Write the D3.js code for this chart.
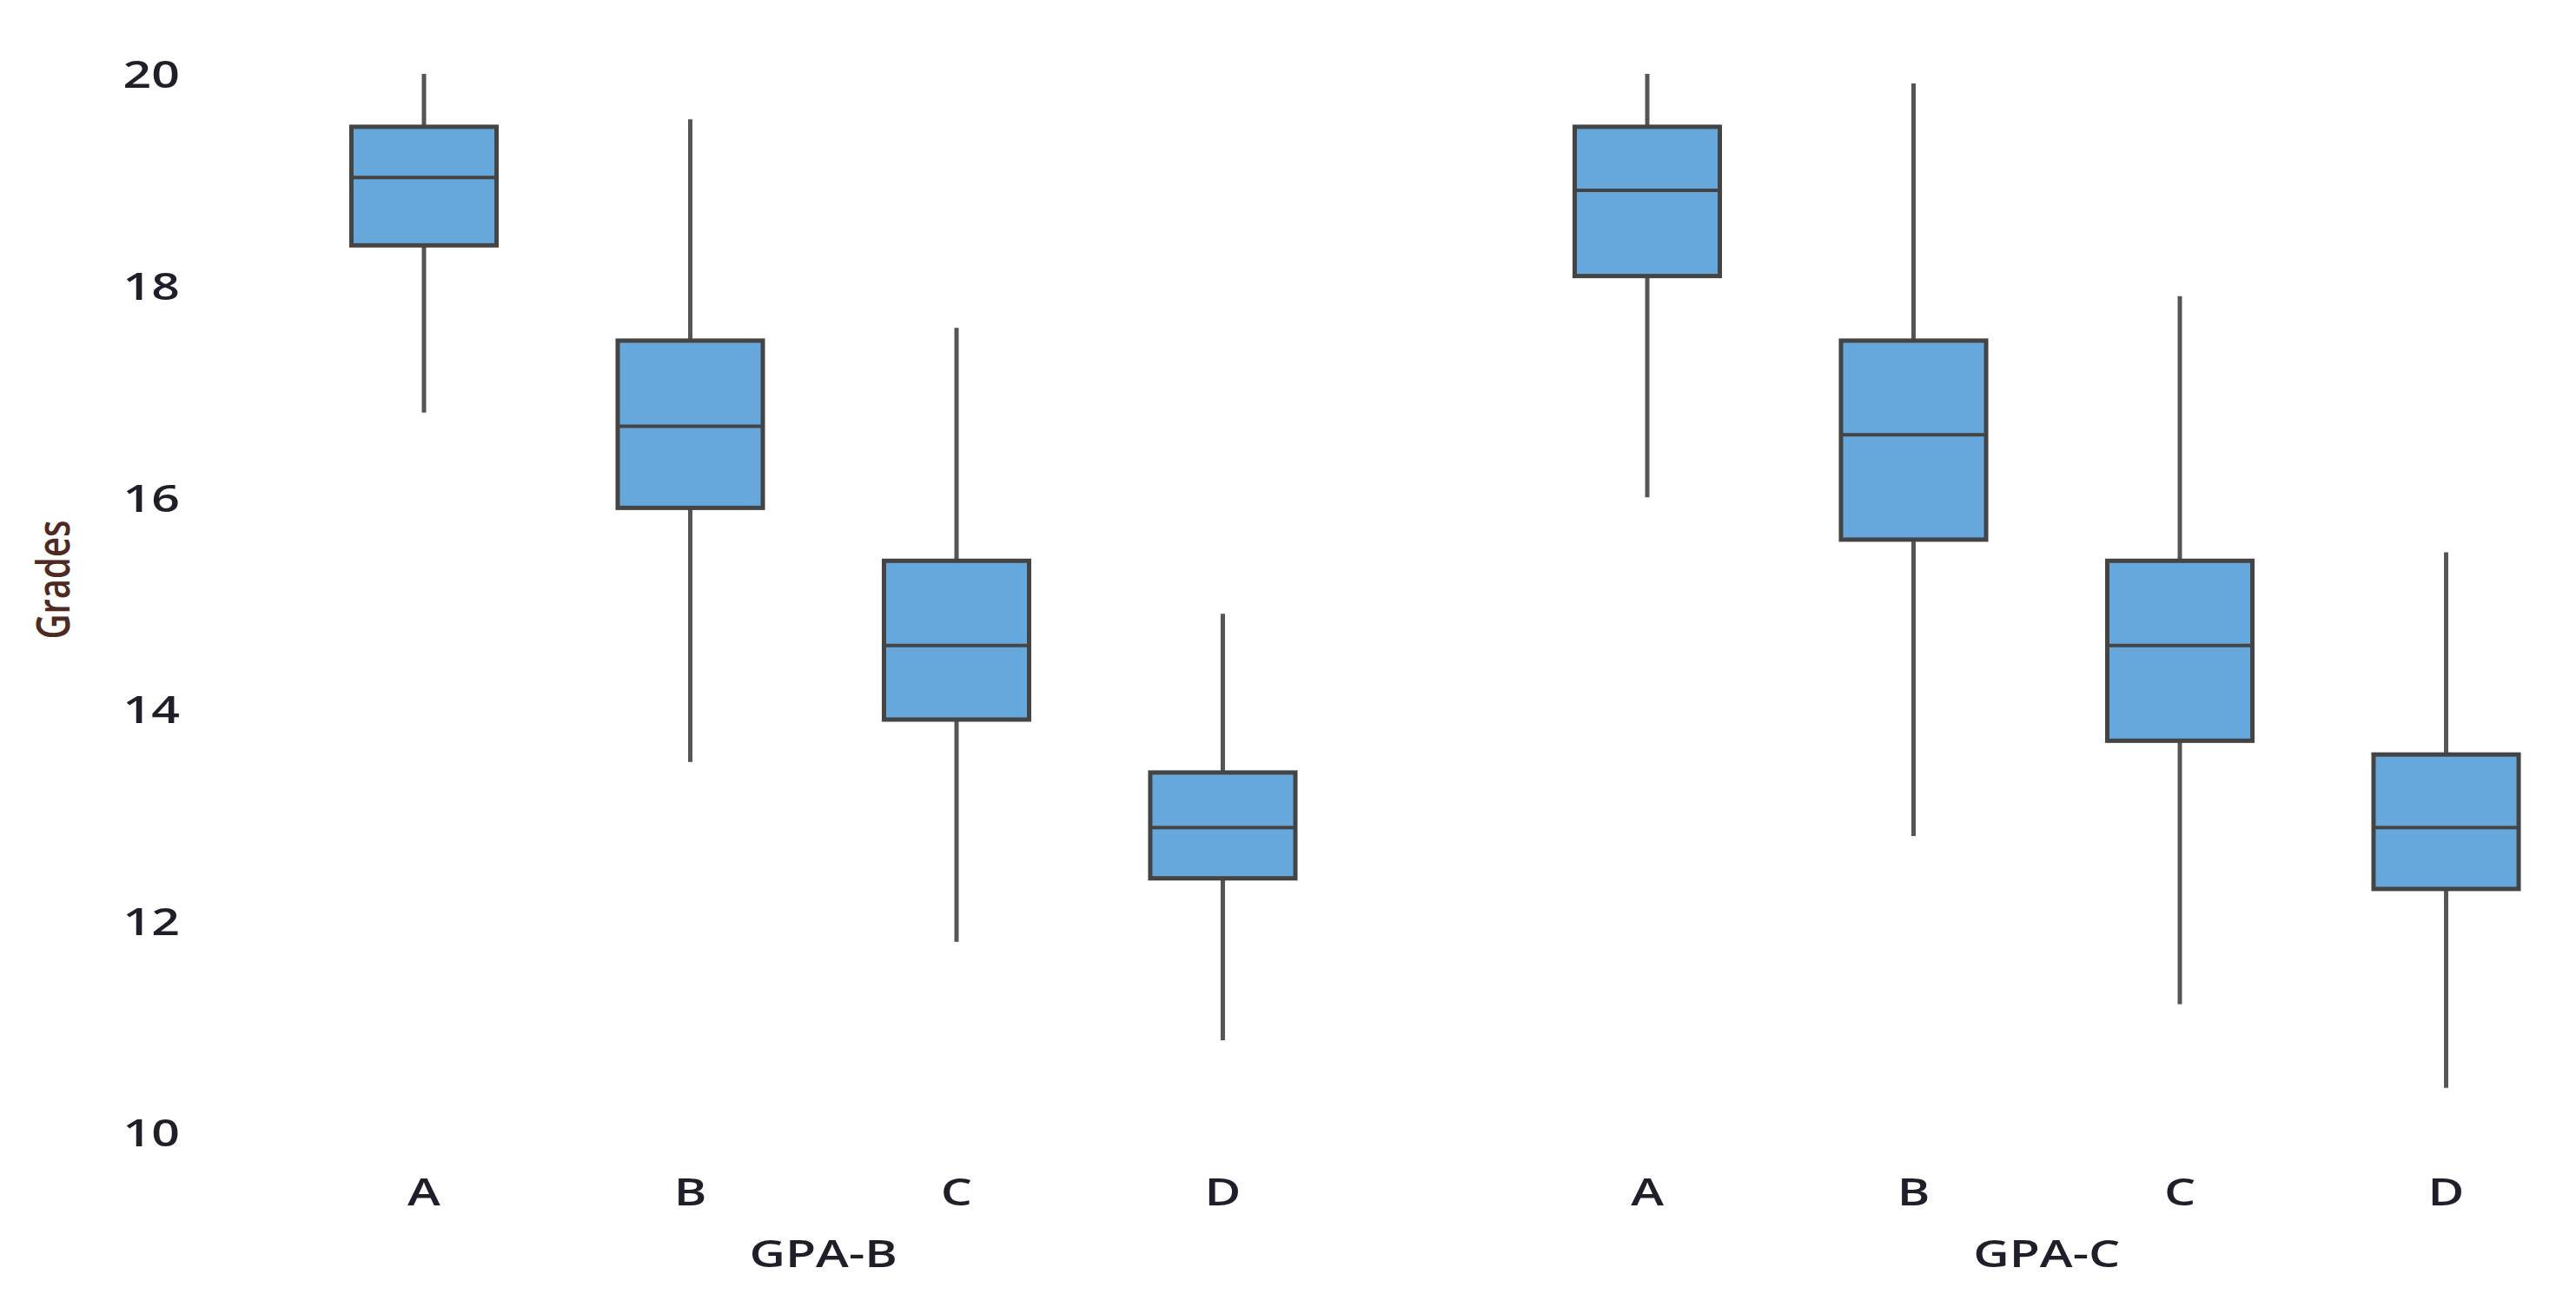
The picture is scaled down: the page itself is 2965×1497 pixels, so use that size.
<!doctype html>
<html lang="en">
<head>
<meta charset="UTF-8">
<title>Grades by GPA group</title>
<script src="https://d3js.org/d3.v7.min.js"></script>
<style>
    body { margin: 0; background: #fff; }
    svg { display: block; background: #fff; }
    .tick text { font-family: "Open Sans", sans-serif; font-weight: 600; fill: #1f1f2a; }
    .lbl { font-family: "Open Sans", sans-serif; font-weight: 600; fill: #1f1f2a; }
</style>
</head>
<body>
<svg width="2965" height="1497"></svg>
<script>
    const groups = ["GPA-B", "GPA-C"];
    const grades = ["A", "B", "C", "D"];
    const yTicks = [10, 12, 14, 16, 18, 20];

    // five-number summaries, one value per grade A..D
    const gpaB_low = [16.8, 13.5, 11.8, 10.87];
    const gpaB_q1 = [18.38, 15.9, 13.9, 12.4];
    const gpaB_med = [19.02, 16.67, 14.6, 12.88];
    const gpaB_q3 = [19.5, 17.48, 15.4, 13.4];
    const gpaB_high = [20.0, 19.57, 17.6, 14.9];

    const gpaC_low = [16.0, 12.8, 11.21, 10.42];
    const gpaC_q1 = [18.09, 15.6, 13.7, 12.3];
    const gpaC_med = [18.9, 16.59, 14.6, 12.88];
    const gpaC_q3 = [19.5, 17.48, 15.4, 13.57];
    const gpaC_high = [20.0, 19.91, 17.9, 15.48];

    const stats = {
        "GPA-B": { low: gpaB_low, q1: gpaB_q1, med: gpaB_med, q3: gpaB_q3, high: gpaB_high },
        "GPA-C": { low: gpaC_low, q1: gpaC_q1, med: gpaC_med, q3: gpaC_q3, high: gpaC_high }
    };

    const boxes = [];
    groups.forEach(g => {
        grades.forEach((gr, i) => {
            const s = stats[g];
            boxes.push({ group: g, grade: gr, low: s.low[i], q1: s.q1[i], med: s.med[i], q3: s.q3[i], high: s.high[i] });
        });
    });

    const svg = d3.select("svg");
    const stretch = 1.3; // text in the source is drawn a little wide

    const x0 = d3.scaleBand().domain(groups).range([334.75, 2968.75]).paddingInner(0.1293);
    const x1 = d3.scaleBand().domain(grades).range([0, x0.bandwidth()]).paddingInner(0.455).paddingOuter(0.2275);
    const y = d3.scaleLinear().domain([10, 20]).range([1303, 85]);

    const cx = d => x0(d.group) + x1(d.grade) + x1.bandwidth() / 2;

    // y axis (labels only)
    const yAxis = svg.append("g")
        .attr("transform", "translate(207,0)")
        .call(d3.axisLeft(y).tickValues(yTicks).tickSize(0).tickPadding(0).tickFormat(d3.format("d")));
    yAxis.select(".domain").remove();
    yAxis.selectAll(".tick text")
        .attr("font-size", 44)
        .attr("dy", "0.36em")
        .attr("transform", `scale(${stretch},1)`);

    svg.append("text")
        .attr("class", "lbl")
        .attr("transform", `translate(80,667) scale(${stretch},1) rotate(-90)`)
        .attr("text-anchor", "middle")
        .attr("font-size", 40)
        .attr("font-weight", 500)
        .style("fill", "#4e2a22")
        .text("Grades");

    const box = svg.append("g").selectAll("g").data(boxes).join("g");

    box.append("line")
        .attr("x1", cx).attr("x2", cx)
        .attr("y1", d => y(d.high)).attr("y2", d => y(d.q3))
        .attr("stroke", "#555").attr("stroke-width", 5);
    box.append("line")
        .attr("x1", cx).attr("x2", cx)
        .attr("y1", d => y(d.q1)).attr("y2", d => y(d.low))
        .attr("stroke", "#555").attr("stroke-width", 5);

    box.append("rect")
        .attr("x", d => cx(d) - x1.bandwidth() / 2)
        .attr("width", x1.bandwidth())
        .attr("y", d => y(d.q3))
        .attr("height", d => y(d.q1) - y(d.q3))
        .attr("fill", "#67a8dc")
        .attr("stroke", "#444")
        .attr("stroke-width", 5);

    box.append("line")
        .attr("x1", d => cx(d) - x1.bandwidth() / 2)
        .attr("x2", d => cx(d) + x1.bandwidth() / 2)
        .attr("y1", d => y(d.med)).attr("y2", d => y(d.med))
        .attr("stroke", "#444").attr("stroke-width", 4);

    // category labels under each box
    svg.append("g").selectAll("text").data(boxes).join("text")
        .attr("class", "lbl")
        .attr("transform", d => `translate(${cx(d)},1387) scale(${stretch},1)`)
        .attr("text-anchor", "middle")
        .attr("font-size", 44)
        .text(d => d.grade);

    svg.append("g").selectAll("text").data(groups).join("text")
        .attr("class", "lbl")
        .attr("transform", d => `translate(${x0(d) + x0.bandwidth() / 2},1458) scale(${stretch},1)`)
        .attr("text-anchor", "middle")
        .attr("font-size", 44)
        .text(d => d);
</script>
</body>
</html>
